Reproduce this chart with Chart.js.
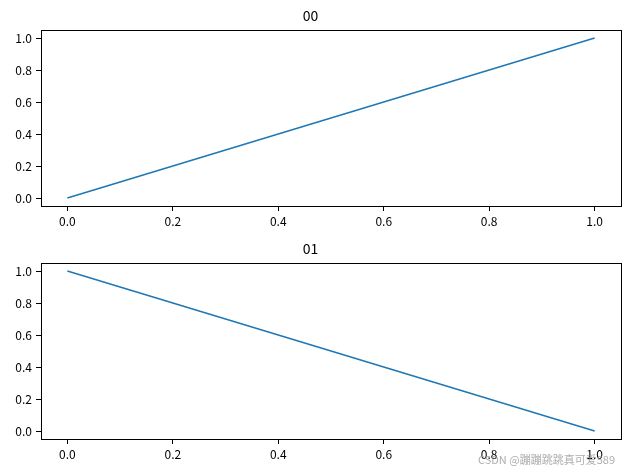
<!DOCTYPE html>
<html>
<head>
<meta charset="utf-8">
<script src="https://cdn.jsdelivr.net/npm/chart.js@4"></script>
<style>
  html, body { margin: 0; padding: 0; background: #fff; }
  #wrap { position: relative; width: 630px; height: 470px; overflow: hidden; }
  .c { position: absolute; left: 0; width: 630px; height: 235px; }
  #wm { position: absolute; left: 478px; top: 451px; font: 11px "Noto Sans CJK SC", sans-serif; color: rgba(160,160,160,0.85); white-space: nowrap; }
</style>
</head>
<body>
<div id="wrap">
  <div class="c" style="top:0px"><canvas id="c0" width="630" height="235"></canvas></div>
  <div class="c" style="top:233px"><canvas id="c1" width="630" height="235"></canvas></div>
  <div id="wm">CSDN @蹦蹦跳跳真可爱589</div>
</div>
<script>
const titles = ["00", "01"];
const xValues = [0, 1];
const series00 = [0, 1];
const series01 = [1, 0];
const xTicks = [0, 0.2, 0.4, 0.6, 0.8, 1.0];
const yTicks = [0, 0.2, 0.4, 0.6, 0.8, 1.0];

const FONT = '"Noto Sans CJK SC", "DejaVu Sans", sans-serif';

const frame = {
  id: 'frame',
  afterDraw(chart) {
    const a = chart.chartArea, ctx = chart.ctx;
    ctx.save();
    ctx.strokeStyle = '#000';
    ctx.lineWidth = 1;
    ctx.strokeRect(Math.round(a.left) + 0.5, Math.round(a.top) + 0.5,
                   Math.round(a.right - a.left), Math.round(a.bottom - a.top));
    ctx.restore();
  }
};

function make(id, title, ys) {
  const pts = xValues.map((x, i) => ({x: x, y: ys[i]}));
  new Chart(document.getElementById(id), {
    type: 'line',
    data: { datasets: [{ data: pts, borderColor: '#1f77b4', borderWidth: 1.6, pointRadius: 0, fill: false, tension: 0 }] },
    plugins: [frame],
    options: {
      responsive: false,
      animation: false,
      events: [],
      layout: { padding: { left: 0, right: 9, top: 0, bottom: 0 } },
      plugins: {
        legend: { display: false },
        tooltip: { enabled: false },
        title: {
          display: true, text: title, color: '#000',
          font: { family: FONT, size: 14, weight: 'normal', lineHeight: 1.2 },
          padding: { top: 7, bottom: 6.2 }
        }
      },
      scales: {
        x: {
          type: 'linear', min: -0.05, max: 1.05,
          afterBuildTicks(s) { s.ticks = xTicks.map(v => ({value: v})); },
          afterFit(s) { s.height = 29; },
          border: { display: false },
          grid: { drawOnChartArea: false, drawTicks: true, tickLength: 5, color: '#000' },
          ticks: { color: '#000', padding: 3, maxRotation: 0, autoSkip: false,
                   font: { family: FONT, size: 12 },
                   callback: v => Number(v).toFixed(1) }
        },
        y: {
          type: 'linear', min: -0.05, max: 1.05,
          afterBuildTicks(s) { s.ticks = yTicks.map(v => ({value: v})); },
          afterFit(s) { s.width = 41; },
          border: { display: false },
          grid: { drawOnChartArea: false, drawTicks: true, tickLength: 5, color: '#000' },
          ticks: { color: '#000', padding: 4, autoSkip: false,
                   font: { family: FONT, size: 12 },
                   callback: v => Number(v).toFixed(1) }
        }
      }
    }
  });
}

make('c0', titles[0], series00);
make('c1', titles[1], series01);
</script>
</body>
</html>
